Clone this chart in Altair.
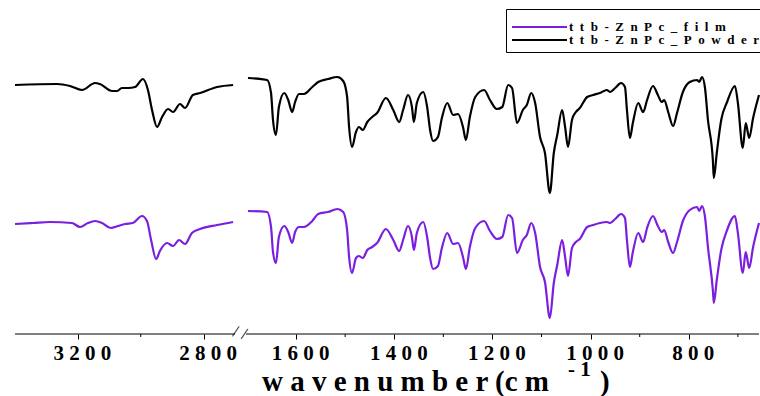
import altair as alt
import pandas as pd

# ---------------- data ----------------
series_names = ["ttb-ZnPc_film", "ttb-ZnPc_Powder"]
series_colors = ["#7a1fe0", "#000000"]

# C-H stretching region (left panel), transmittance in arbitrary units (offset)
wn_left_powder = [3400, 3266, 3225, 3187, 3145, 3130, 3091, 3075, 3060, 3040, 3018, 2993,
                  2977, 2964, 2948, 2932, 2913, 2897, 2875, 2859, 2834, 2811, 2757, 2706]
t_left_powder = [249, 250, 248, 244, 251, 250, 243, 243, 246, 246, 247, 255,
                 244, 224, 207, 217, 225, 222, 230, 226, 239, 241, 247, 249]

wn_left_film = [3400, 3343, 3289, 3219, 3193, 3168, 3145, 3123, 3095, 3072, 3050, 3025,
                2996, 2980, 2967, 2951, 2939, 2916, 2897, 2878, 2859, 2837, 2811, 2757, 2706]
t_left_film = [110, 111, 112, 111, 107, 111, 113, 111, 106, 108, 110, 111,
               118, 113, 94, 75, 83, 91, 88, 94, 90, 101, 105, 109, 112]

# fingerprint region (right panel)
wn_right = [1698, 1659, 1651, 1647, 1641, 1635, 1624, 1616, 1608, 1602,
            1594, 1584, 1567, 1555, 1535, 1516, 1504, 1496, 1492, 1486,
            1478, 1472, 1464, 1455, 1445, 1435, 1417, 1402, 1390, 1382,
            1372, 1364, 1360, 1354, 1341, 1333, 1327, 1321, 1311, 1303,
            1292, 1280, 1270, 1260, 1254, 1246, 1235, 1217, 1205, 1191,
            1180, 1168, 1160, 1150, 1138, 1130, 1121, 1113, 1103, 1093,
            1083, 1075, 1068, 1058, 1052, 1046, 1038, 1030, 1022, 1007,
            995, 981, 967, 960, 950, 938, 930, 926, 920, 914,
            903, 893, 885, 873, 863, 855, 850, 842, 832, 824,
            812, 798, 783, 779, 773, 767, 761, 751, 749, 743,
            734, 722, 706, 700, 690, 684, 677, 669, 657]
t_right_powder = [256, 254, 241, 214, 199, 227, 241, 234, 222, 232,
                  240, 240, 247, 252, 255, 257, 253, 237, 207, 187,
                  202, 207, 204, 212, 217, 221, 236, 224, 212, 224,
                  239, 227, 212, 231, 242, 227, 204, 193, 197, 216,
                  231, 219, 220, 207, 194, 217, 237, 244, 234, 225,
                  227, 249, 246, 211, 224, 229, 241, 231, 197, 181,
                  141, 181, 199, 224, 207, 187, 214, 222, 226, 237,
                  239, 241, 244, 242, 246, 251, 247, 224, 196, 211,
                  231, 222, 234, 248, 239, 232, 234, 222, 208, 221,
                  242, 252, 254, 252, 257, 246, 214, 174, 156, 181,
                  214, 232, 248, 231, 186, 211, 196, 216, 239]
t_right_film = [123, 122, 107, 82, 71, 97, 108, 102, 91, 102,
                107, 107, 113, 120, 122, 125, 122, 104, 77, 61,
                76, 78, 76, 84, 87, 91, 105, 94, 83, 94,
                108, 97, 84, 101, 112, 97, 76, 65, 68, 86,
                101, 90, 91, 77, 65, 87, 106, 113, 103, 95,
                97, 119, 116, 81, 94, 99, 111, 101, 67, 52,
                16, 51, 69, 94, 77, 58, 86, 92, 95, 107,
                109, 111, 112, 111, 115, 120, 116, 94, 67, 82,
                101, 92, 106, 118, 108, 102, 104, 92, 81, 92,
                113, 124, 127, 123, 128, 117, 87, 44, 31, 54,
                84, 104, 118, 101, 61, 82, 66, 87, 111]

major_ticks = [3200, 2800, 1600, 1400, 1200, 1000, 800]
minor_ticks = [3000, 1500, 1300, 1100, 900, 700]
x_domain = [3400, 2700, 1702, 657]
segment_start = [3400, 1702]
segment_end = [2700, 657]
baseline_zero = [0, 0]
title_main = ["w a v e n u m b e r  (c m"]
title_sup = ["-  1"]
title_close = [")"]
break_text = ["/ /"]

# ---------------- build table ----------------
def spaced(s):
    return "\u2002".join(list(s))

labels = [spaced(n) for n in series_names]
rows = []
for w, v in zip(wn_left_film, t_left_film):
    rows.append({"wn": w, "t": v, "series": labels[0], "region": "CH"})
for w, v in zip(wn_left_powder, t_left_powder):
    rows.append({"wn": w, "t": v, "series": labels[1], "region": "CH"})
for w, v in zip(wn_right, t_right_film):
    rows.append({"wn": w, "t": v, "series": labels[0], "region": "FP"})
for w, v in zip(wn_right, t_right_powder):
    rows.append({"wn": w, "t": v, "series": labels[1], "region": "FP"})
df = pd.DataFrame(rows)

FONT = "Liberation Serif"

xscale = alt.Scale(domain=x_domain, range=[15, 235, 246, 759], nice=False, zero=False)
yscale = alt.Scale(domain=[0, 334], nice=False, zero=False)


def xaxis():
    return alt.Axis(
        values=major_ticks, title=None, domain=False, grid=False,
        tickColor="black", tickWidth=1, tickSize=5,
        labelExpr="join(split(format(datum.value, 'd'), ''), ' ')",
        labelFont=FONT, labelFontWeight="bold", labelFontSize=21, labelColor="black",
        labelPadding=3, labelOffset=4, labelOverlap=False, labelFlush=False, labelBound=False,
    )


lines = alt.Chart(df).mark_line(strokeWidth=2.2, interpolate="monotone").encode(
    x=alt.X("wn:Q", scale=xscale, axis=xaxis()),
    y=alt.Y("t:Q", scale=yscale, axis=None),
    color=alt.Color(
        "series:N",
        scale=alt.Scale(domain=labels, range=series_colors),
        legend=alt.Legend(
            title=" ", titleFontSize=7, titlePadding=0,
            orient="none", legendX=506, legendY=9,
            symbolType="stroke", symbolSize=3025, symbolStrokeWidth=2,
            clipHeight=12, rowPadding=-8, padding=5,
            strokeColor="black", fillColor="white",
            labelFont=FONT, labelFontWeight="bold", labelFontSize=13,
            labelColor="black", labelLimit=400, labelOffset=1, symbolOffset=0,
        ),
    ),
    detail="region:N",
)

axis_line = alt.Chart(
    pd.DataFrame({"a": segment_start, "b": segment_end, "z": baseline_zero})
).mark_rule(color="black", strokeWidth=1).encode(
    x=alt.X("a:Q", axis=xaxis()),
    x2="b:Q",
    y=alt.Y("z:Q", axis=None),
)

minor = alt.Chart(
    pd.DataFrame({"m": minor_ticks, "z": [0] * len(minor_ticks)})
).mark_rule(color="black", strokeWidth=1).encode(
    x=alt.X("m:Q", axis=xaxis()),
    y=alt.Y("z:Q", axis=None),
    y2=alt.value(337),
)

brk = alt.Chart(pd.DataFrame({"s": break_text})).mark_text(
    font=FONT, fontSize=17, align="center", baseline="middle", color="black", angle=15
).encode(text="s:N", x=alt.value(240), y=alt.value(333))

t_main = alt.Chart(pd.DataFrame({"s": title_main})).mark_text(
    font=FONT, fontWeight="bold", fontSize=29, align="left", baseline="alphabetic", color="black"
).encode(text="s:N", x=alt.value(262), y=alt.value(391))
t_sup = alt.Chart(pd.DataFrame({"s": title_sup})).mark_text(
    font=FONT, fontWeight="bold", fontSize=21, align="left", baseline="alphabetic", color="black"
).encode(text="s:N", x=alt.value(568), y=alt.value(376))
t_close = alt.Chart(pd.DataFrame({"s": title_close})).mark_text(
    font=FONT, fontWeight="bold", fontSize=29, align="left", baseline="alphabetic", color="black"
).encode(text="s:N", x=alt.value(600), y=alt.value(391))

chart = alt.layer(lines, axis_line, minor, brk, t_main, t_sup, t_close).properties(
    width=760, height=334,
    autosize=alt.AutoSizeParams(type="none"),
    padding={"left": 0, "top": 0, "right": 0, "bottom": 62},
    background="white",
).configure_view(stroke=None)

chart.save("out.html", embed_options={"renderer": "svg", "actions": False})
